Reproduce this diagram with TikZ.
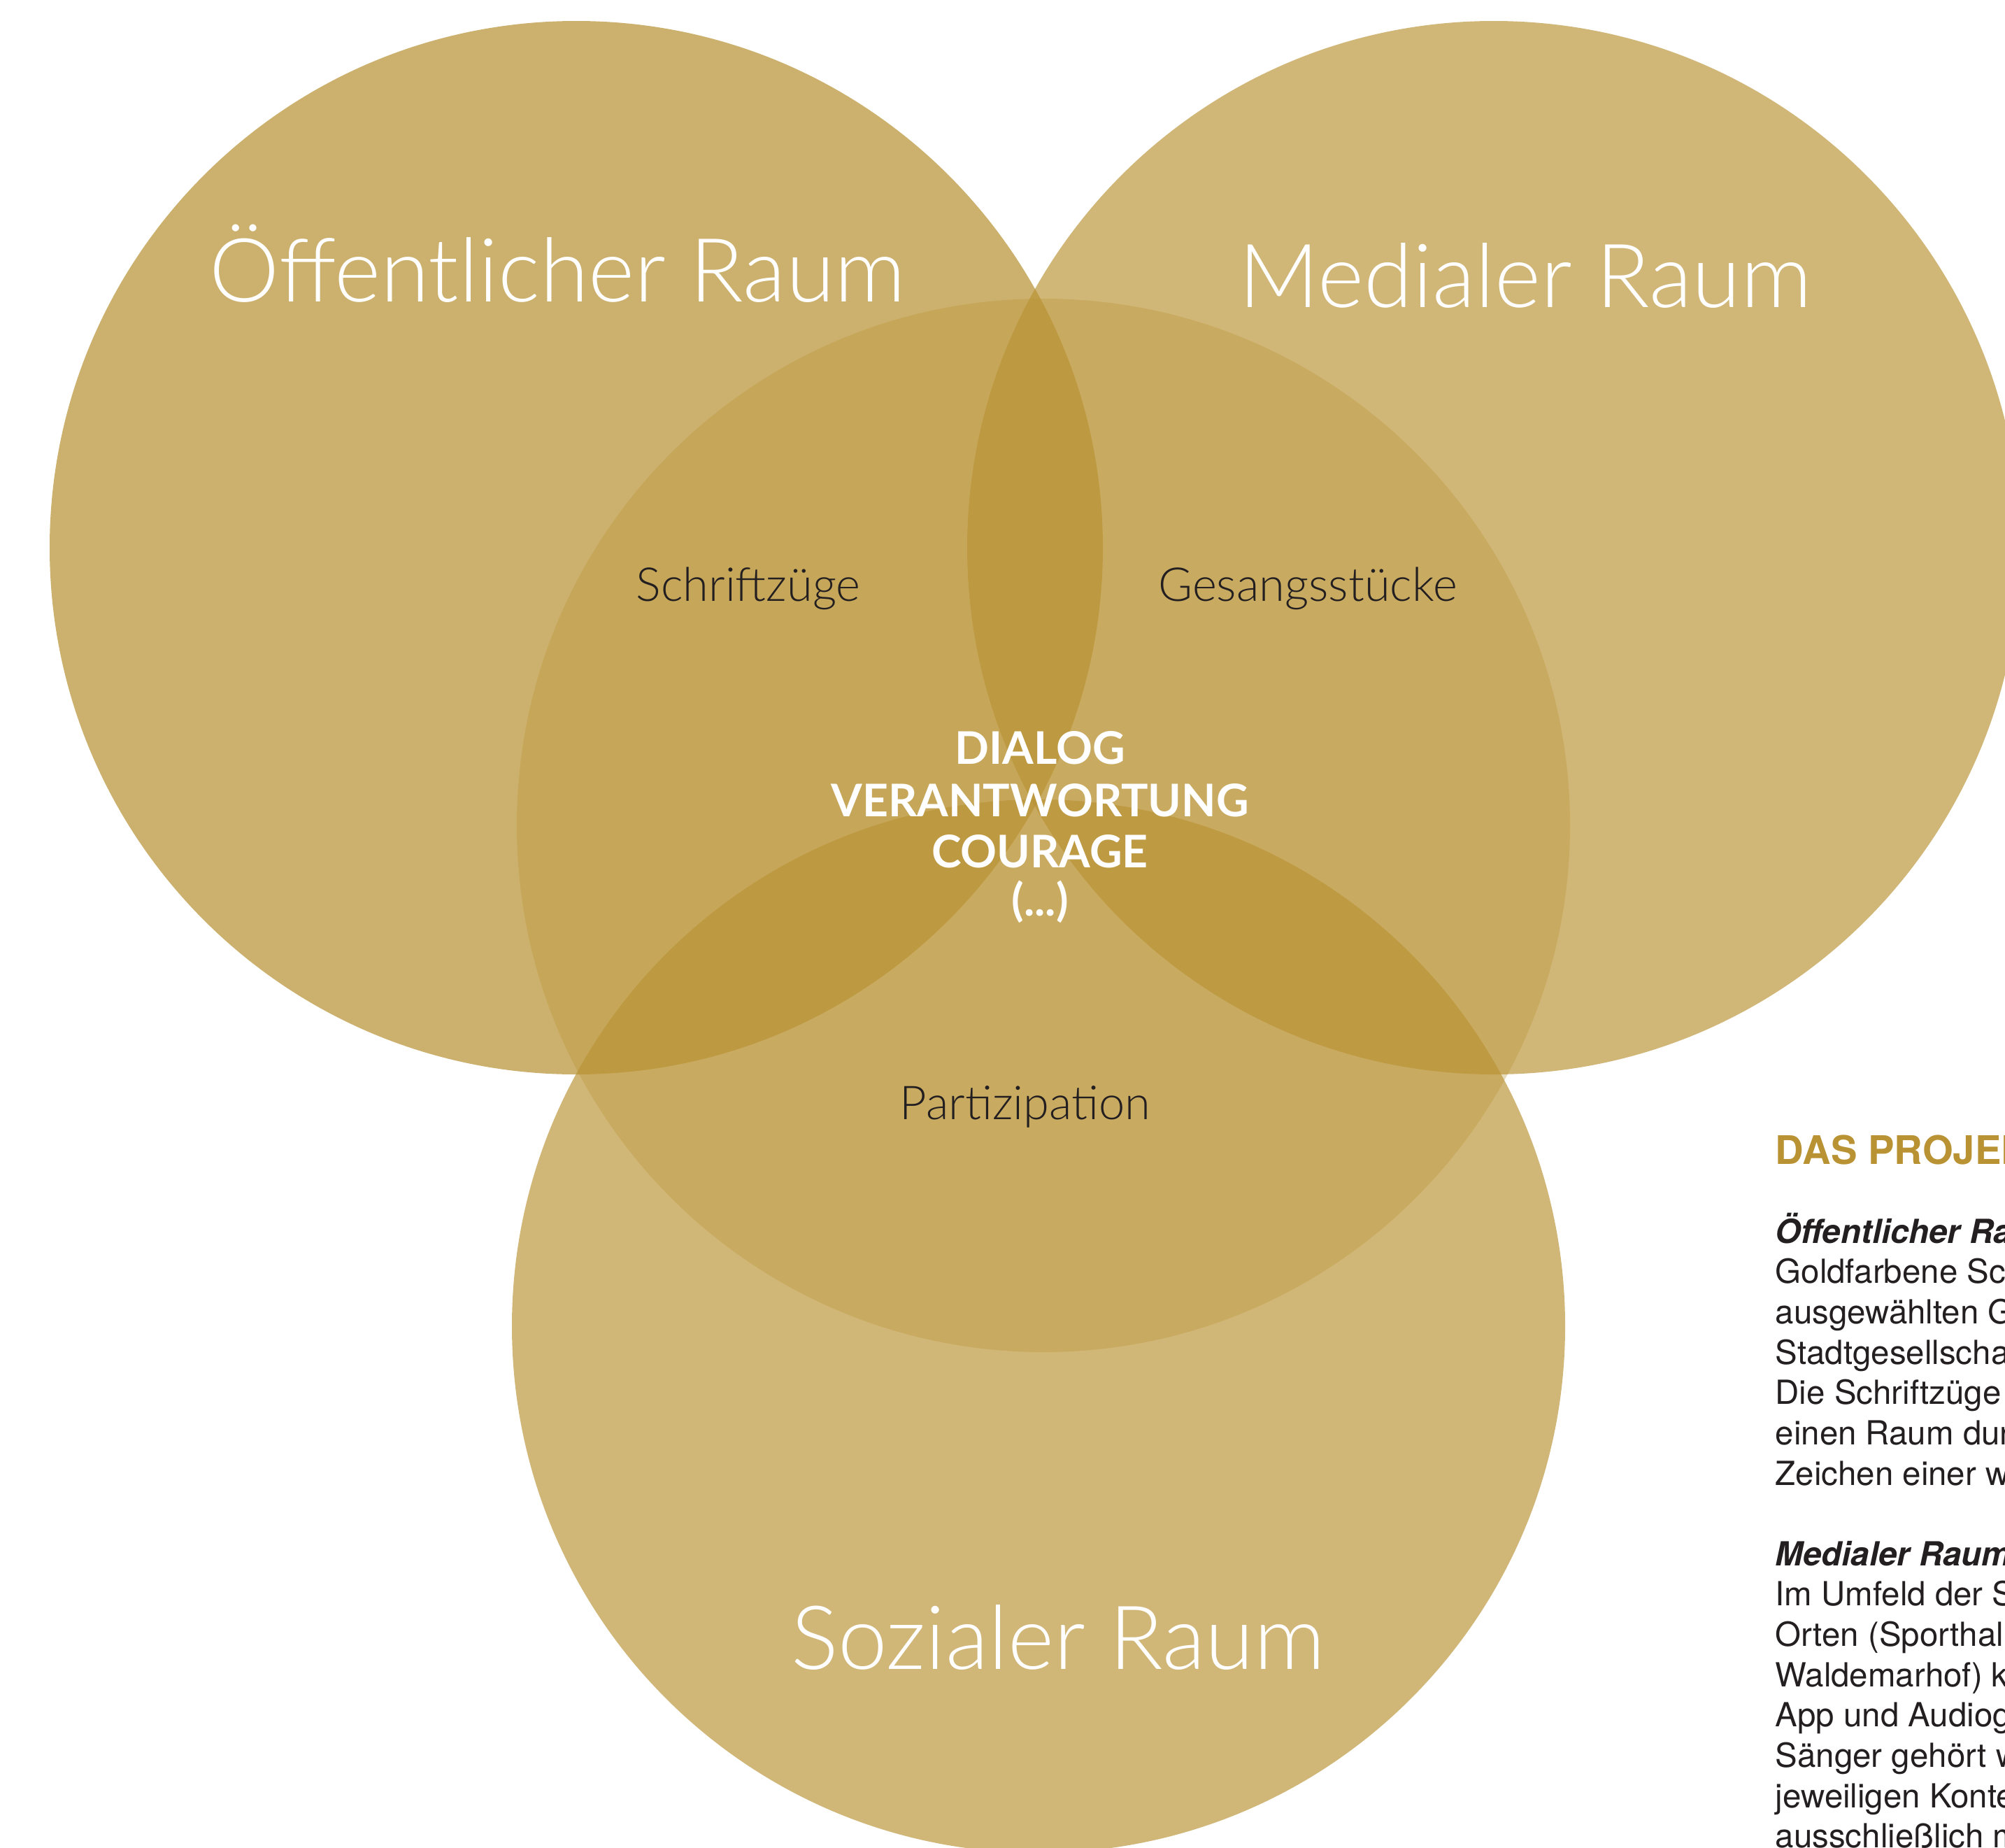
\documentclass[tikz,border=0pt]{standalone}
\usepackage{fontspec}
\setmainfont{Lato}
\newfontfamily\lightfont{Lato Light}
\newfontfamily\helvfont{TeX Gyre Heros}
\definecolor{gold}{RGB}{185,146,52}
\definecolor{ink}{RGB}{35,31,32}
\tikzset{
  raum/.style={anchor=base, inner sep=0pt, text=white, font=\lightfont\fontsize{36}{40}\selectfont},
  zwischen/.style={anchor=base, inner sep=0pt, text=ink, font=\lightfont\fontsize{19}{22}\selectfont},
  mitte/.style={anchor=base, inner sep=0pt, text=white, font=\bfseries\fontsize{18.3}{21}\selectfont},
  spalte/.style={anchor=base west, inner sep=0pt, text=ink, font=\helvfont\fontsize{13.5}{16.4}\selectfont},
}
\begin{document}
\begin{tikzpicture}
  \useasboundingbox (0,0) rectangle (28.67,-26.41);
  \clip (0,0) rectangle (28.67,-26.41);

  % die vier Kreise
  \fill[gold, fill opacity=0.72] (8.24,-7.83) circle (7.53);
  \fill[gold, fill opacity=0.67] (21.36,-7.83) circle (7.53);
  \fill[gold, fill opacity=0.67] (14.85,-18.96) circle (7.53);
  \fill[gold, fill opacity=0.32] (14.92,-11.80) circle (7.53);

  % Raeume
  \node[raum] (oeffentlich) at (7.97,-4.31) {Öffentlicher Raum};
  \node[raum] (medial) at (21.81,-4.39) {Medialer Raum};
  \node[raum] (sozial) at (15.13,-23.86) {Sozialer Raum};

  % Schnittmengen
  \node[zwischen] (schrift) at (10.70,-8.59) {Schriftzüge};
  \node[zwischen] (gesang) at (18.70,-8.59) {Gesangsstücke};
  \node[zwischen] (teilhabe) at (14.66,-16.00) {Partizipation};

  % Mitte
  \node[mitte] (dialog) at (14.87,-10.92) {DIALOG};
  \node[mitte] (verantwortung) at (14.87,-11.67) {VERANTWORTUNG};
  \node[mitte] (courage) at (14.87,-12.40) {COURAGE};
  \node[mitte] (weiter) at (14.87,-13.09) {(...)};

  % Textspalte rechts
  \node[spalte, text=gold, font=\helvfont\bfseries\fontsize{16}{19}\selectfont] (projekt) at (25.38,-16.64) {DAS PROJEKT};
  \foreach \zeile [count=\i from 0] in {{\bfseries\itshape Öffentlicher Raum}, Goldfarbene Sch, ausgewählten Ge, Stadtgesellschaf, Die Schriftzüge s, einen Raum durch, Zeichen einer we}
    \node[spalte] (oeff-\i) at (25.38,-17.77-0.577*\i) {\zeile};
  \foreach \zeile [count=\i from 0] in {{\bfseries\itshape Medialer Raum}, Im Umfeld der Sc, Orten (Sporthalle, Waldemarhof) ka, App und Audiogu, Sänger gehört we, jeweiligen Konte, ausschließlich mi}
    \node[spalte] (med-\i) at (25.38,-22.38-0.577*\i) {\zeile};
\end{tikzpicture}
\end{document}
